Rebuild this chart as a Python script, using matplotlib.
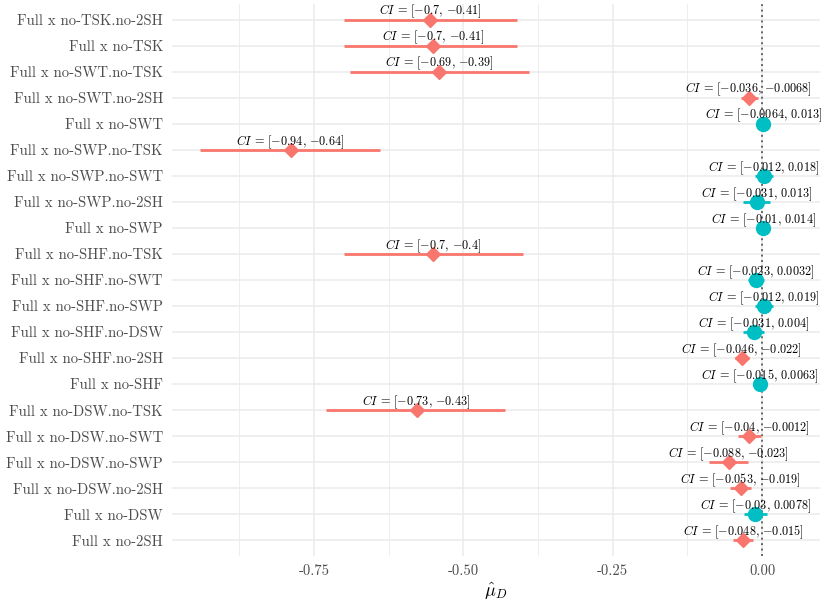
import matplotlib
matplotlib.use("Agg")
import matplotlib.pyplot as plt
import numpy as np

plt.rcParams['font.family'] = 'serif'
plt.rcParams['font.serif'] = ['cmr10', 'DejaVu Serif']
plt.rcParams['mathtext.fontset'] = 'cm'
plt.rcParams['axes.unicode_minus'] = False
plt.rcParams['axes.formatter.use_mathtext'] = True

labels = [
    "Full x no-TSK.no-2SH", "Full x no-TSK", "Full x no-SWT.no-TSK", "Full x no-SWT.no-2SH",
    "Full x no-SWT", "Full x no-SWP.no-TSK", "Full x no-SWP.no-SWT", "Full x no-SWP.no-2SH",
    "Full x no-SWP", "Full x no-SHF.no-TSK", "Full x no-SHF.no-SWT", "Full x no-SHF.no-SWP",
    "Full x no-SHF.no-DSW", "Full x no-SHF.no-2SH", "Full x no-SHF", "Full x no-DSW.no-TSK",
    "Full x no-DSW.no-SWT", "Full x no-DSW.no-SWP", "Full x no-DSW.no-2SH", "Full x no-DSW",
    "Full x no-2SH",
]
estimate = [-0.555, -0.55, -0.54, -0.022, 0.002, -0.789, 0.003, -0.009, 0.002, -0.55,
            -0.010, 0.003, -0.014, -0.034, -0.004, -0.578, -0.021, -0.056, -0.036, -0.011, -0.032]
ci_low = [-0.7, -0.7, -0.69, -0.036, -0.0064, -0.94, -0.012, -0.031, -0.01, -0.7,
          -0.023, -0.012, -0.031, -0.046, -0.015, -0.73, -0.04, -0.088, -0.053, -0.03, -0.048]
ci_high = [-0.41, -0.41, -0.39, -0.0068, 0.013, -0.64, 0.018, 0.013, 0.014, -0.4,
           0.0032, 0.019, 0.004, -0.022, 0.0063, -0.43, -0.0012, -0.023, -0.019, 0.0078, -0.015]
ci_text_low = ["-0.7", "-0.7", "-0.69", "-0.036", "-0.0064", "-0.94", "-0.012", "-0.031", "-0.01", "-0.7",
               "-0.023", "-0.012", "-0.031", "-0.046", "-0.015", "-0.73", "-0.04", "-0.088", "-0.053", "-0.03", "-0.048"]
ci_text_high = ["-0.41", "-0.41", "-0.39", "-0.0068", "0.013", "-0.64", "0.018", "0.013", "0.014", "-0.4",
                "0.0032", "0.019", "0.004", "-0.022", "0.0063", "-0.43", "-0.0012", "-0.023", "-0.019", "0.0078", "-0.015"]
xticks = [-0.75, -0.50, -0.25, 0.00]
xtick_labels = ["-0.75", "-0.50", "-0.25", "0.00"]

PINK = "#F8766D"
TEAL = "#00BFC4"
GRID = "#EBEBEB"
TXT = "#4D4D4D"

fig = plt.figure(figsize=(8.27, 6.04), dpi=100)
ax = fig.add_axes([0.208, 0.0795, 0.7835, 0.914])

n = len(labels)
ypos = np.arange(n)[::-1]

ax.set_xlim(-0.9875, 0.097)
ax.set_ylim(-0.6, n - 1 + 0.6)

# grid
for xm in [-0.875, -0.625, -0.375, -0.125]:
    ax.axvline(xm, color=GRID, lw=0.6, zorder=0)
for xm in xticks:
    ax.axvline(xm, color=GRID, lw=1.1, zorder=0)
for y in ypos:
    ax.axhline(y, color=GRID, lw=1.1, zorder=0)

ax.axvline(0, color="#666666", lw=1.4, ls=(0, (1, 1.8)), zorder=1)

def fmt(s):
    return s.replace('-', '{-}')

for i in range(n):
    y = ypos[i]
    sig = ci_high[i] < 0 or ci_low[i] > 0
    col = PINK if sig else TEAL
    ax.plot([ci_low[i], ci_high[i]], [y, y], color=col, lw=2.0, solid_capstyle='butt', zorder=2)
    if sig:
        ax.plot(estimate[i], y, marker='D', ms=6.8, color=col, mec=col, zorder=3)
    else:
        ax.plot(estimate[i], y, marker='o', ms=10, color=col, mec=col, zorder=3)
    txt = r"$CI\,=\,[" + fmt(ci_text_low[i]) + r",\, " + fmt(ci_text_high[i]) + "]$"
    ax.text(estimate[i], y - 0.03, txt, ha='center', va='bottom', fontsize=8.8, color='black', zorder=4)

ax.set_yticks(ypos)
ax.set_yticklabels(labels, fontsize=10.6, color=TXT)
ax.set_xticks(xticks)
ax.set_xticklabels(xtick_labels, fontsize=10.6, color=TXT)
ax.tick_params(axis='y', length=0, pad=6.5)
ax.tick_params(axis='x', length=0, pad=6)
for s in ax.spines.values():
    s.set_visible(False)
ax.set_xlabel(r"$\hat{\mu}_D$", fontsize=13, labelpad=2)

fig.savefig("out.png", dpi=100)
